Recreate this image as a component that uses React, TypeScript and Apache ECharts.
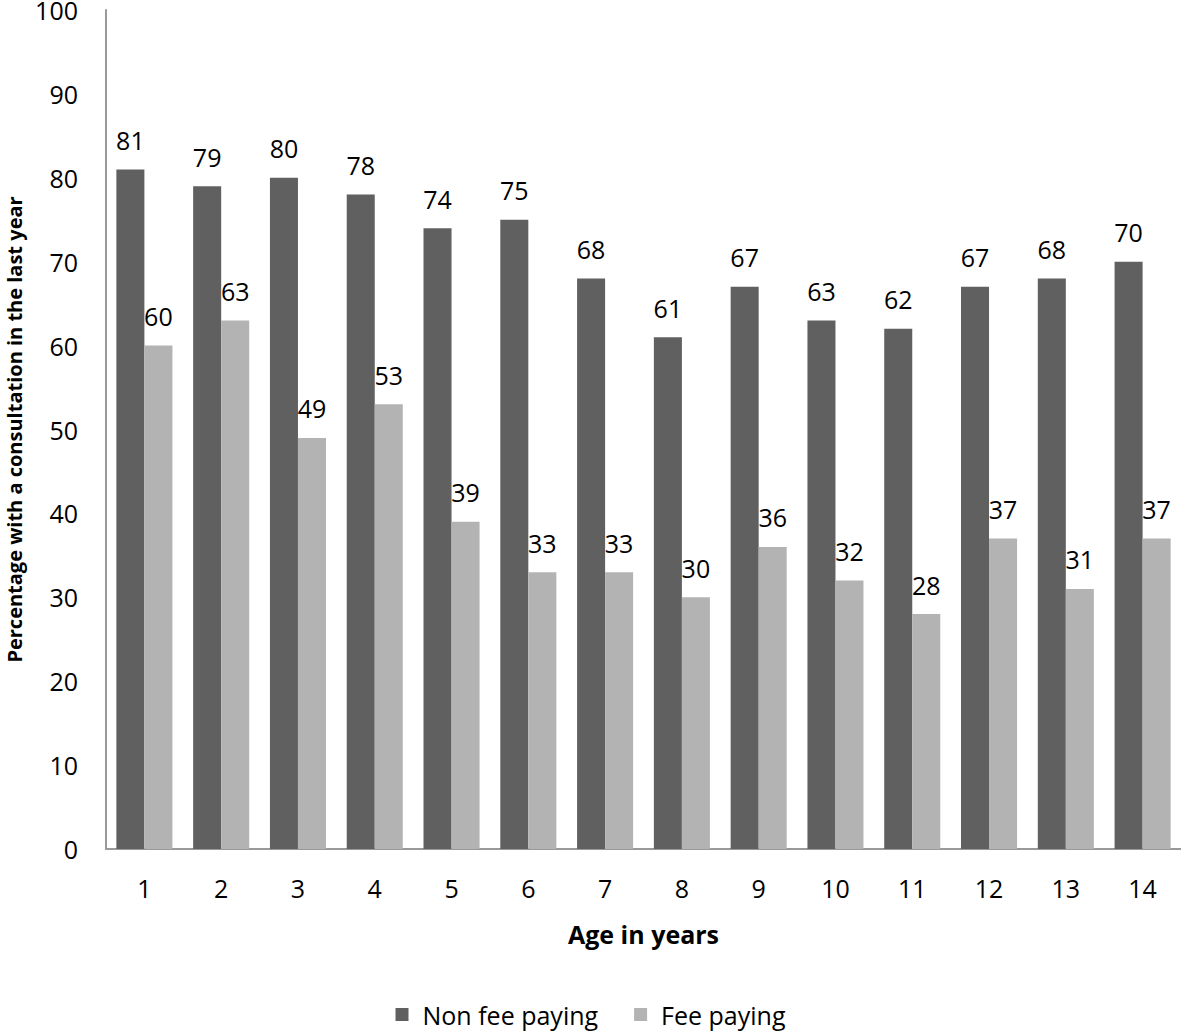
import React, { useEffect, useRef } from "react";
import * as echarts from "echarts";

const categories = ["1", "2", "3", "4", "5", "6", "7", "8", "9", "10", "11", "12", "13", "14"];
const nonFeePaying = [81, 79, 80, 78, 74, 75, 68, 61, 67, 63, 62, 67, 68, 70];
const feePaying = [60, 63, 49, 53, 39, 33, 33, 30, 36, 32, 28, 37, 31, 37];

const FONT = "'Open Sans', 'Liberation Sans', sans-serif";

export default function App() {
  const ref = useRef<HTMLDivElement>(null);
  useEffect(() => {
    const chart = echarts.init(ref.current!, null, { renderer: "svg" });
    const labelStyle = {
      show: true,
      position: "top",
      distance: 17,
      color: "#000",
      fontSize: 25,
      fontFamily: FONT,
    };
    chart.setOption({
      animation: false,
      textStyle: { fontFamily: FONT },
      grid: {
        left: 106,
        right: 0,
        top: 10,
        bottom: 183,
        containLabel: false,
        outerBoundsMode: "none",
      },
      legend: {
        top: 997,
        left: "center",
        itemWidth: 13,
        itemHeight: 13,
        itemGap: 36,
        icon: "rect",
        textStyle: { fontSize: 25, color: "#000", fontFamily: FONT, padding: [0, 0, 0, 9] },
        data: ["Non fee paying", "Fee paying"],
      },
      xAxis: {
        type: "category",
        data: categories,
        name: "Age in years",
        nameLocation: "middle",
        nameGap: 72,
        nameTextStyle: { fontSize: 25, fontWeight: "bold", color: "#000", fontFamily: FONT },
        axisLine: { lineStyle: { color: "#999", width: 2 } },
        axisTick: { show: false },
        axisLabel: { fontSize: 25, color: "#000", margin: 26, fontFamily: FONT },
      },
      yAxis: {
        type: "value",
        min: 0,
        max: 100,
        interval: 10,
        name: "Percentage with a consultation in the last year",
        nameLocation: "middle",
        nameGap: 82,
        nameTextStyle: { fontSize: 20, fontWeight: "bold", color: "#000", fontFamily: FONT },
        axisLine: { show: true, lineStyle: { color: "#999", width: 2 } },
        axisTick: { show: false },
        splitLine: { show: false },
        axisLabel: { fontSize: 25, lineHeight: 20, color: "#000", margin: 28, fontFamily: FONT },
      },
      series: [
        {
          name: "Non fee paying",
          type: "bar",
          data: nonFeePaying,
          barGap: "0%",
          barCategoryGap: "27%",
          itemStyle: { color: "#606060" },
          label: labelStyle,
        },
        {
          name: "Fee paying",
          type: "bar",
          data: feePaying,
          itemStyle: { color: "#b3b3b3" },
          label: labelStyle,
        },
      ],
    });
    return () => chart.dispose();
  }, []);
  return <div ref={ref} style={{ width: 1181, height: 1032, position: "absolute", left: 0, top: 0 }} />;
}
